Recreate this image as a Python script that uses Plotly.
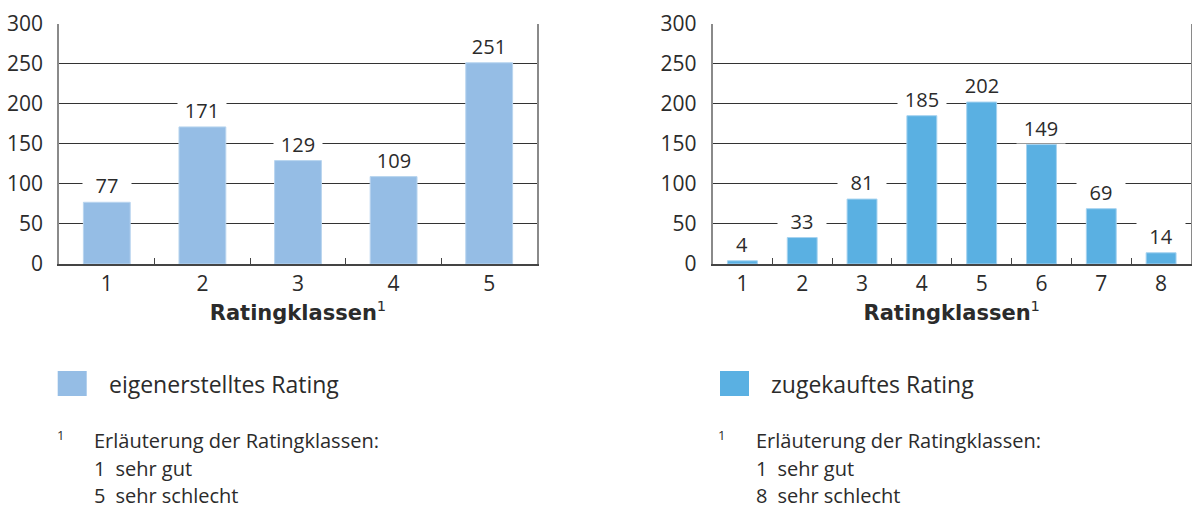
import plotly.graph_objects as go
from plotly.subplots import make_subplots

# Daten
klassen_eigen = ["1", "2", "3", "4", "5"]
werte_eigen = [77, 171, 129, 109, 251]
klassen_zugekauft = ["1", "2", "3", "4", "5", "6", "7", "8"]
werte_zugekauft = [4, 33, 81, 185, 202, 149, 69, 14]
y_ticks = [0, 50, 100, 150, 200, 250, 300]

FONT = "Open Sans"
TEXT = "#2b2b2b"
BLAU_HELL = "#95bde5"
BLAU = "#5ab0e2"

fig = make_subplots(rows=1, cols=2)

fig.add_trace(go.Bar(x=klassen_eigen, y=werte_eigen, width=0.49,
                     marker=dict(color=BLAU_HELL, line=dict(color="#b9d5ef", width=1)),
                     showlegend=False), row=1, col=1)
fig.add_trace(go.Bar(x=klassen_zugekauft, y=werte_zugekauft, width=0.5,
                     marker=dict(color=BLAU, line=dict(color="#a6d3f0", width=1)),
                     showlegend=False), row=1, col=2)

# Werte über den Balken, mit weißem Hintergrund (unterbricht Gitterlinien)
# (Kategorie-Achse: Annotationen über den Kategorienindex positionieren)
for xs, ys, ax in [(klassen_eigen, werte_eigen, ("x", "y")),
                   (klassen_zugekauft, werte_zugekauft, ("x2", "y2"))]:
    for idx, v in enumerate(ys):
        fig.add_annotation(x=idx, y=v, xref=ax[0], yref=ax[1], text=str(v),
                           showarrow=False, yanchor="bottom", yshift=1,
                           bgcolor="white", width=46, borderpad=1,
                           font=dict(family=FONT, size=20, color=TEXT))

y_dom = [1 - 264 / 509, 1 - 23.5 / 509]
for i, xdom in [(1, [59 / 1192, 537 / 1192]), (2, [712.5 / 1192, 1191 / 1192])]:
    fig.update_xaxes(type="category", domain=xdom, automargin=False,
                     showline=True, linecolor="#444", linewidth=1.5,
                     ticks="inside", tickson="boundaries", ticklen=6, tickcolor="#444",
                     tickfont=dict(family=FONT, size=21, color=TEXT),
                     title=dict(text="<b>Ratingklassen</b><sup>1</sup>", standoff=6,
                                font=dict(family="DejaVu Sans", size=21, color=TEXT)),
                     showgrid=False, row=1, col=i)
    fig.update_yaxes(domain=y_dom, range=[0, 300], tickvals=y_ticks, automargin=False,
                     showgrid=True, gridcolor="#333", gridwidth=1,
                     showline=True, mirror=True, linecolor="#8a8a8a", linewidth=1.5,
                     ticks="", ticklabelstandoff=10, zeroline=False,
                     tickfont=dict(family=FONT, size=21, color=TEXT),
                     row=1, col=i)

# Legenden und Fußnoten
legenden = [
    (57.7, 86.7, 106.5, BLAU_HELL, "eigenerstelltes Rating", 55, 93, "5"),
    (720, 749, 768.5, BLAU, "zugekauftes Rating", 716, 755, "8"),
]
for x0, x1, tx, farbe, name, fx, fx2, letzte in legenden:
    fig.add_shape(type="rect", xref="paper", yref="paper",
                  x0=x0 / 1192, x1=x1 / 1192, y0=1 - 396 / 509, y1=1 - 371 / 509,
                  fillcolor=farbe, line=dict(width=0))
    fig.add_annotation(xref="paper", yref="paper", x=tx / 1192, y=1 - 384 / 509,
                       xanchor="left", yanchor="middle", showarrow=False, text=name,
                       font=dict(family=FONT, size=23, color=TEXT))
    fig.add_annotation(xref="paper", yref="paper", x=fx / 1192, y=1 - 435 / 509,
                       xanchor="left", yanchor="middle", showarrow=False, text="1",
                       font=dict(family=FONT, size=13, color=TEXT))
    for zeile, yy in [("Erläuterung der Ratingklassen:", 440),
                      ("1\u2002sehr gut", 468),
                      (letzte + "\u2002sehr schlecht", 495)]:
        fig.add_annotation(xref="paper", yref="paper", x=fx2 / 1192, y=1 - yy / 509,
                           xanchor="left", yanchor="middle", showarrow=False, text=zeile,
                           borderpad=0, font=dict(family=FONT, size=20, color=TEXT))

fig.update_layout(width=1192, height=509, margin=dict(l=0, r=0, t=0, b=0),
                  plot_bgcolor="white", paper_bgcolor="white", bargap=0.5,
                  font=dict(family=FONT, color=TEXT))

fig.write_html("out.html", config={"displayModeBar": False},
               post_script="document.body.style.margin='0';")
